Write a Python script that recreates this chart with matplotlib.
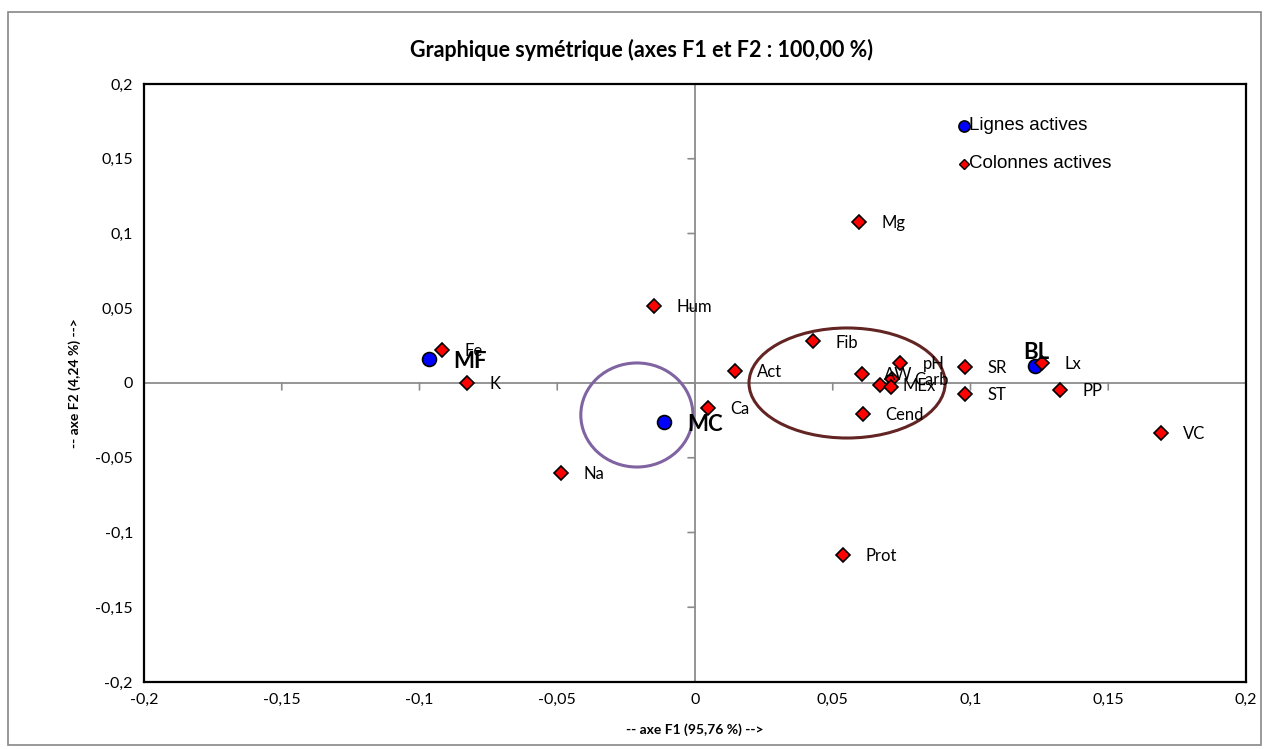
import matplotlib.pyplot as plt
from matplotlib.patches import Ellipse, Rectangle

plt.rcParams["font.family"] = ["Lato", "DejaVu Sans"]

# Active rows (blue circles)
row_names = ["MF", "MC", "BL"]
row_x = [-0.0967, -0.0113, 0.1235]
row_y = [0.016, -0.026, 0.0114]

# Active columns (red diamonds)
col_names = ["Fe", "K", "Na", "Hum", "Ca", "Act", "Fib", "Mg", "Prot", "Cend",
             "AW", "pH", "MEx", "Carb", "", "SR", "ST", "Lx", "PP", "VC"]
col_x = [-0.0919, -0.0828, -0.0487, -0.0149, 0.0047, 0.0145, 0.0429, 0.0596, 0.0538, 0.061,
         0.0607, 0.0745, 0.0672, 0.0716, 0.0712, 0.0981, 0.0981, 0.126, 0.1326, 0.169]
col_y = [0.022, 0.0, -0.060, 0.0515, -0.0167, 0.008, 0.028, 0.108, -0.115, -0.0207,
         0.006, 0.0134, -0.0013, 0.0027, -0.0027, 0.0107, -0.0074, 0.0134, -0.0047, -0.0334]

ticks = [-0.2, -0.15, -0.1, -0.05, 0, 0.05, 0.1, 0.15, 0.2]
tick_labels = ["-0,2", "-0,15", "-0,1", "-0,05", "0", "0,05", "0,1", "0,15", "0,2"]

fig = plt.figure(figsize=(12.64, 7.49), dpi=100)
ax = fig.add_axes([144 / 1264, 1 - 682 / 749, (1246 - 144) / 1264, (682 - 84) / 749])

# outer chart frame
fig.patches.append(Rectangle((8 / 1264, 4 / 749), 1253 / 1264, 733 / 749,
                             transform=fig.transFigure, fill=False,
                             edgecolor="#888888", linewidth=1.2))

ax.set_xlim(-0.2, 0.2)
ax.set_ylim(-0.2, 0.2)
for s in ax.spines.values():
    s.set_linewidth(1.6)
    s.set_color("black")
ax.set_xticks(ticks)
ax.set_xticklabels(tick_labels)
ax.set_yticks(ticks)
ax.set_yticklabels(tick_labels)
ax.tick_params(length=0, labelsize=11.5, pad=8)

# axes crossing at zero with tick marks
ax.axhline(0, color="#8c8c8c", linewidth=1.3, zorder=1)
ax.axvline(0, color="#8c8c8c", linewidth=1.3, zorder=1)
for t in ticks[1:-1]:
    ax.annotate("", xy=(t, 0), xytext=(0, -5), textcoords="offset points",
                arrowprops=dict(arrowstyle="-", color="#8c8c8c", lw=1.2,
                                shrinkA=0, shrinkB=0))
    ax.annotate("", xy=(0, t), xytext=(-5, 0), textcoords="offset points",
                arrowprops=dict(arrowstyle="-", color="#8c8c8c", lw=1.2,
                                shrinkA=0, shrinkB=0))

# ellipses
ax.add_patch(Ellipse((-0.0211, -0.0214), 0.0407, 0.0696, fill=False,
                     edgecolor="#8064a2", linewidth=2.2, zorder=2))
ax.add_patch(Ellipse((0.0552, 0.0), 0.0712, 0.0736, fill=False,
                     edgecolor="#632523", linewidth=2.2, zorder=2))

ax.plot(col_x, col_y, "D", color="red", markeredgecolor="black", markeredgewidth=1.2,
        markersize=7.5, linestyle="none", zorder=4)
ax.plot(row_x, row_y, "o", color="blue", markeredgecolor="black", markeredgewidth=1.2,
        markersize=10, linestyle="none", zorder=3)

for name, x, y in zip(col_names, col_x, col_y):
    ax.annotate(name, (x, y), xytext=(16, -1), textcoords="offset points",
                fontsize=12, va="center", ha="left", zorder=5)

row_offsets = {"MF": (18, -2), "MC": (17, -2), "BL": (1, 10)}
for name, x, y in zip(row_names, row_x, row_y):
    dx, dy = row_offsets[name]
    ha = "center" if name == "BL" else "left"
    ax.annotate(name, (x, y), xytext=(dx, dy), textcoords="offset points",
                fontsize=16, fontweight="bold", va="center", ha=ha, zorder=5)

# legend drawn inside the plot area
ax.plot([0.0975], [0.172], "o", color="blue", markeredgecolor="black",
        markeredgewidth=1.2, markersize=8)
ax.text(0.0995, 0.172, "Lignes actives", fontsize=13.5, va="center",
        family=["Liberation Sans", "DejaVu Sans"])
ax.plot([0.0975], [0.1465], "D", color="red", markeredgecolor="black",
        markeredgewidth=1.0, markersize=5.5)
ax.text(0.0995, 0.1465, "Colonnes actives", fontsize=13.5, va="center",
        family=["Liberation Sans", "DejaVu Sans"])

fig.text(642 / 1264, 1 - 50 / 749, "Graphique symétrique (axes F1 et F2 : 100,00 %)",
         ha="center", va="center", fontsize=15.5, fontweight="bold")
ax.set_xlabel("-- axe F1 (95,76 %) -->", fontsize=10, fontweight="bold", labelpad=12)
ax.set_ylabel("-- axe F2 (4,24 %) -->", fontsize=10, fontweight="bold", labelpad=10)

fig.savefig("out.png", dpi=100)
